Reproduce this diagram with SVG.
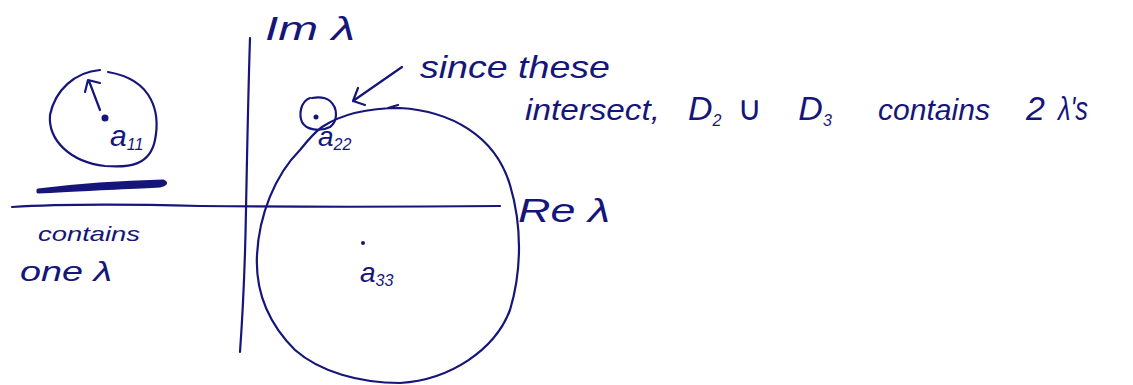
<svg xmlns="http://www.w3.org/2000/svg" width="1133" height="385" viewBox="0 0 1133 385">
<style>
.s{fill:none;stroke:#16167a;stroke-width:2.2;stroke-linecap:round;stroke-linejoin:round}
.t{fill:#16167a;font-family:"Liberation Sans","DejaVu Sans",sans-serif;font-style:italic}
.sub{font-size:16px}
</style>
<rect width="1133" height="385" fill="#fff"/>
<g id="axes">
<path class="s" d="M250 38 C248 100 247 160 246 210 C245 270 243 310 240 352"/>
<path class="s" d="M12 207 C60 204 120 204 200 206 C300 207 400 207 500 206"/>
<text class="t" x="265" y="40" font-size="34" textLength="90" lengthAdjust="spacingAndGlyphs">Im λ</text>
<text class="t" x="518" y="222" font-size="34" textLength="92" lengthAdjust="spacingAndGlyphs">Re λ</text>
</g>
<g id="disk1">
<path class="s" d="M100 70 C75 72 55 90 50 115 C48 140 70 162 105 166 C130 168 150 165 155 140 C160 115 155 80 108 72"/>
<path class="s" d="M100 110 L89 81 M85 92 L88 80 L100 83"/>
<circle cx="105" cy="118" r="3.5" fill="#16167a"/>
<text class="t" x="110" y="146" font-size="30">a<tspan class="sub" dy="4">11</tspan></text>
<path d="M38 190 C70 186 120 182 163 181 C168 183 165 185 160 186 C120 188 70 190 38 192 Z" fill="#16167a" stroke="#16167a" stroke-width="3" stroke-linejoin="round"/>
<text class="t" x="38" y="241" font-size="21" textLength="102" lengthAdjust="spacingAndGlyphs">contains</text>
<text class="t" x="20" y="281" font-size="28" textLength="92" lengthAdjust="spacingAndGlyphs">one λ</text>
</g>
<g id="disk2">
<path class="s" d="M310 98 C300 102 299 115 302 122 C306 130 320 132 330 127 C338 121 338 108 330 101 C325 97 318 97 312 98"/>
<circle cx="316" cy="117" r="2.5" fill="#16167a"/>
<text class="t" x="318" y="146" font-size="28">a<tspan class="sub" dy="4">22</tspan></text>
</g>
<g id="disk3">
<path class="s" d="M398 105 L388 108 M322 127 C340 115 365 108 400 108 C450 111 495 135 510 185 C522 225 522 270 510 310 C495 350 450 380 400 383 C360 383 320 372 295 350 C270 325 255 295 257 255 C259 215 275 175 300 150 C308 140 315 132 322 127"/>
<circle cx="363" cy="243" r="2" fill="#16167a"/>
<text class="t" x="360" y="282" font-size="28">a<tspan class="sub" dy="4">33</tspan></text>
</g>
<g id="note">
<path class="s" d="M402 67 L353 101 M358 88 L353 101 L365 105"/>
<text class="t" x="420" y="78" font-size="32" textLength="190" lengthAdjust="spacingAndGlyphs">since these</text>
<text class="t" x="525" y="120" font-size="30" textLength="135" lengthAdjust="spacingAndGlyphs">intersect,</text>
<text class="t" x="688" y="120" font-size="34">D<tspan class="sub" font-size="20" dy="6">2</tspan><tspan dy="-6" dx="16">∪</tspan><tspan dx="36">D</tspan><tspan class="sub" font-size="20" dy="6">3</tspan></text>
<text class="t" x="878" y="120" font-size="30" textLength="112" lengthAdjust="spacingAndGlyphs">contains</text>
<text class="t" x="1026" y="120" font-size="34">2</text>
<text class="t" x="1058" y="120" font-size="34" textLength="30" lengthAdjust="spacingAndGlyphs">λ's</text>
</g>
</svg>
